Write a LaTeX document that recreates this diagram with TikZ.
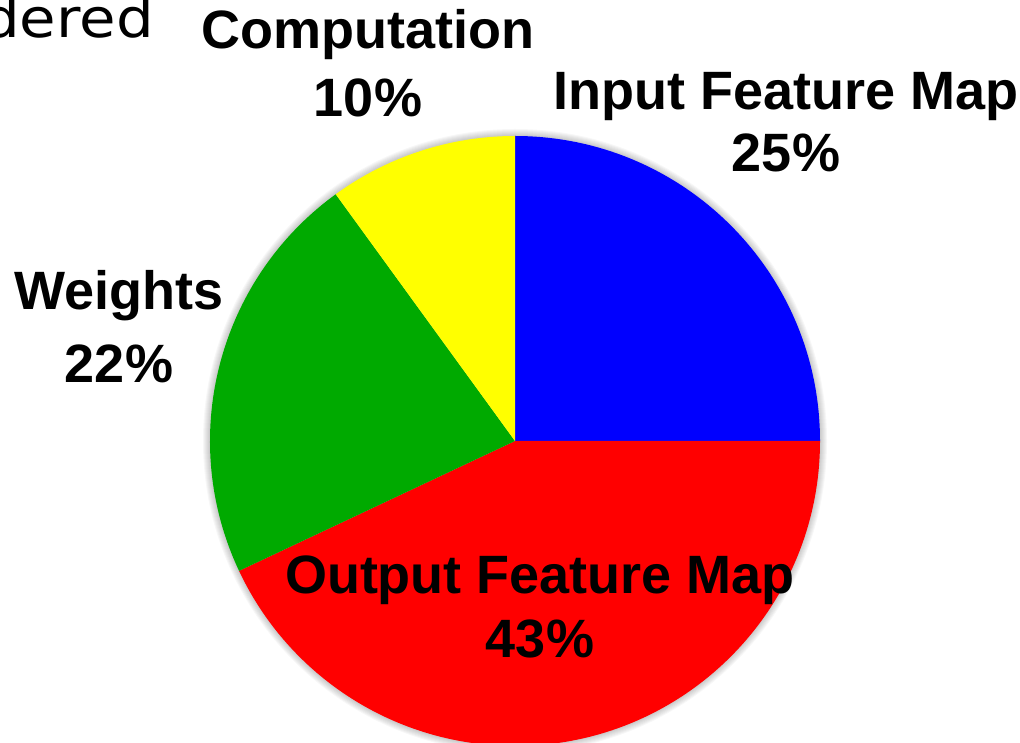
\documentclass[tikz,border=0pt]{standalone}
\usepackage{fontspec}
\setmainfont{Liberation Sans}
\newfontfamily\slidefont[FakeStretch=1.1]{DejaVu Sans}
\usepackage{xcolor}
\usetikzlibrary{positioning}
\definecolor{inblue}{RGB}{0,0,255}
\definecolor{outred}{RGB}{255,0,0}
\definecolor{wgreen}{RGB}{0,170,0}
\definecolor{compyellow}{RGB}{255,255,0}
\tikzset{pielabel/.style={align=center,anchor=base,inner sep=0pt,font=\bfseries\fontsize{54}{66}\selectfont}}

\begin{document}
\begin{tikzpicture}[x=1pt,y=1pt]
\useasboundingbox (0,0) rectangle (1020,742);
\coordinate (ctr) at (515,301);
\def\rad{305}

% soft shadow round the pie
\foreach \r in {1,...,7} {
\fill[black,opacity=0.03] (ctr) circle[radius=\rad+\r];
};

\foreach \a/\b/\c in {90/0/inblue,0/-154.8/outred,205.2/126/wgreen,126/90/compyellow} {
\fill[\c] (ctr) -- ++(\a:\rad) arc[start angle=\a,end angle=\b,radius=\rad] -- cycle;
};

\node[anchor=base east,inner sep=0pt,font=\slidefont\fontsize{54}{64}\selectfont] (slideword) at (154,704) {dered};

% base anchor sits on the last line
\node[pielabel] (comp) at (368,625) {Computation\\[2pt]10\%};
\node[pielabel] (input) at (786,570) {Input Feature Map\\[-4pt]25\%};
\node[pielabel] (weights) at (119,359) {Weights\\[7pt]22\%};
\node[pielabel] (output) at (540,85) {Output Feature Map\\[-2pt]43\%};
\end{tikzpicture}
\end{document}
